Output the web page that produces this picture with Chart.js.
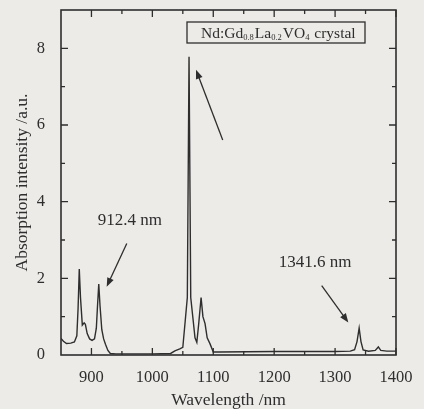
<!DOCTYPE html>
<html>
<head>
<meta charset="utf-8">
<script src="https://cdn.jsdelivr.net/npm/chart.js@4"></script>
<style>
  html, body { margin: 0; padding: 0; background: #ecebe8; }
  canvas { display: block; }
</style>
</head>
<body>
<canvas id="absChart" width="424" height="409"></canvas>
<script>
// spectrum
const wavelengths = [850, 854, 859, 866, 872, 876, 878, 880, 882, 885, 888, 890, 893, 897, 901, 905, 908, 910, 912, 914, 917, 920, 923, 927, 931, 940,
  1000, 1030, 1037, 1045, 1050, 1054, 1057.4, 1060.2, 1063, 1067, 1070, 1073, 1076, 1080, 1083, 1086.5, 1090, 1094.7, 1100,
  1110, 1200, 1300, 1325, 1332, 1336, 1339.5, 1342.5, 1346, 1355, 1366, 1371, 1375, 1385, 1400];
const intensity = [0.43, 0.36, 0.30, 0.31, 0.34, 0.50, 1.2, 2.24, 1.5, 0.78, 0.84, 0.80, 0.56, 0.42, 0.38, 0.42, 0.70, 1.3, 1.85, 1.3, 0.66, 0.42, 0.28, 0.12, 0.04, 0.03,
  0.03, 0.04, 0.11, 0.16, 0.20, 0.90, 1.5, 7.78, 1.5, 0.9, 0.45, 0.33, 0.8, 1.5, 1.0, 0.82, 0.45, 0.29, 0.08,
  0.08, 0.09, 0.09, 0.10, 0.14, 0.35, 0.70, 0.35, 0.13, 0.10, 0.12, 0.21, 0.12, 0.10, 0.10];
const xTickLabels = [900, 1000, 1100, 1200, 1300, 1400];
const yTickLabels = [0, 2, 4, 6, 8];

// annotation text + arrows (data coords)
const peakNotes = [
  { text: '912.4 nm', tx: 963, ty: 3.5, from: [958, 2.91], to: [925, 1.78] },
  { text: '1341.6 nm', tx: 1267, ty: 2.42, from: [1278, 1.81], to: [1321.7, 0.85] },
  { text: '', from: [1115.5, 5.61], to: [1071.7, 7.44] }
];

const ink = '#2e2e2e';
const serif = "'Liberation Serif', 'DejaVu Serif', serif";

const frameAndTicks = {
  id: 'frameAndTicks',
  afterDatasetsDraw(chart) {
    const { ctx, chartArea: a, scales: { x, y } } = chart;
    ctx.save();
    ctx.strokeStyle = ink;
    ctx.lineWidth = 1.6;
    ctx.strokeRect(a.left, a.top, a.right - a.left, a.bottom - a.top);
    ctx.lineWidth = 1.3;
    ctx.beginPath();
    for (let v = 900; v <= 1400; v += 50) {
      const px = x.getPixelForValue(v);
      const len = v % 100 === 0 ? 7 : 4;
      ctx.moveTo(px, a.bottom); ctx.lineTo(px, a.bottom - len);
      ctx.moveTo(px, a.top); ctx.lineTo(px, a.top + len);
    }
    for (let v = 1; v <= 8; v += 1) {
      const py = y.getPixelForValue(v);
      const len = v % 2 === 0 ? 7 : 4;
      ctx.moveTo(a.left, py); ctx.lineTo(a.left + len, py);
      ctx.moveTo(a.right, py); ctx.lineTo(a.right - len, py);
    }
    ctx.stroke();

    // arrows and labels
    ctx.fillStyle = ink;
    ctx.font = '17px ' + serif;
    ctx.textAlign = 'center';
    ctx.textBaseline = 'middle';
    peakNotes.forEach(n => {
      if (n.text) ctx.fillText(n.text, x.getPixelForValue(n.tx), y.getPixelForValue(n.ty));
      const x1 = x.getPixelForValue(n.from[0]), y1 = y.getPixelForValue(n.from[1]);
      const x2 = x.getPixelForValue(n.to[0]), y2 = y.getPixelForValue(n.to[1]);
      const ang = Math.atan2(y2 - y1, x2 - x1);
      ctx.lineWidth = 1.3;
      ctx.beginPath();
      ctx.moveTo(x1, y1);
      ctx.lineTo(x2 - 6 * Math.cos(ang), y2 - 6 * Math.sin(ang));
      ctx.stroke();
      ctx.beginPath();
      ctx.moveTo(x2, y2);
      ctx.lineTo(x2 - 9 * Math.cos(ang) + 3.5 * Math.sin(ang), y2 - 9 * Math.sin(ang) - 3.5 * Math.cos(ang));
      ctx.lineTo(x2 - 9 * Math.cos(ang) - 3.5 * Math.sin(ang), y2 - 9 * Math.sin(ang) + 3.5 * Math.cos(ang));
      ctx.closePath();
      ctx.fill();
    });

    // legend box with subscripts
    const bx = a.left + 126, by = a.top + 12, bw = 178, bh = 21;
    ctx.lineWidth = 1.3;
    ctx.strokeRect(bx, by, bw, bh);
    const parts = [['Nd:Gd', 0], ['0.8', 1], ['La', 0], ['0.2', 1], ['VO', 0], ['4', 1], [' crystal', 0]];
    let cx = bx + 14;
    const base = by + 15.5;
    ctx.textAlign = 'left';
    ctx.textBaseline = 'alphabetic';
    parts.forEach(([t, sub]) => {
      ctx.font = (sub ? '8.5px ' : '15.5px ') + serif;
      ctx.fillText(t, cx, sub ? base + 2 : base);
      cx += ctx.measureText(t).width + (sub ? 1 : 0);
    });
    ctx.restore();
  }
};

const bgPlugin = {
  id: 'bg',
  beforeDraw(chart) {
    const { ctx, width, height } = chart;
    ctx.save();
    ctx.fillStyle = '#ecebe8';
    ctx.fillRect(0, 0, width, height);
    ctx.restore();
  }
};

new Chart(document.getElementById('absChart').getContext('2d'), {
  type: 'line',
  data: {
    datasets: [{
      label: 'Nd:Gd0.8La0.2VO4 crystal',
      data: wavelengths.map((w, i) => ({ x: w, y: intensity[i] })),
      borderColor: ink,
      borderWidth: 1.4,
      pointRadius: 0,
      tension: 0,
      fill: false
    }]
  },
  options: {
    responsive: false,
    animation: false,
    devicePixelRatio: 1,
    layout: { padding: { top: 10, right: 28, left: 0, bottom: 0 } },
    plugins: { legend: { display: false }, tooltip: { enabled: false } },
    scales: {
      x: {
        type: 'linear',
        min: 850,
        max: 1400,
        afterBuildTicks: s => { s.ticks = xTickLabels.map(v => ({ value: v })); },
        afterFit: s => { s.height = 54; s.paddingLeft = 0; s.paddingRight = 0; },
        grid: { display: false },
        border: { display: false },
        ticks: { color: ink, padding: 5, font: { family: serif, size: 16.5 }, maxRotation: 0, callback: v => String(v) },
        title: { display: true, text: 'Wavelength /nm', color: ink, font: { family: serif, size: 17.5, lineHeight: 1 }, padding: { top: 0, bottom: 0 } }
      },
      y: {
        min: 0,
        max: 9,
        afterBuildTicks: s => { s.ticks = yTickLabels.map(v => ({ value: v })); },
        afterFit: s => { s.width = 61; s.paddingTop = 0; s.paddingBottom = 0; },
        grid: { display: false },
        border: { display: false },
        ticks: { color: ink, padding: 8, font: { family: serif, size: 16.5 } },
        title: { display: true, text: 'Absorption intensity /a.u.', color: ink, font: { family: serif, size: 17.5 }, padding: { top: 12, bottom: 0 } }
      }
    }
  },
  plugins: [bgPlugin, frameAndTicks]
});
</script>
</body>
</html>
